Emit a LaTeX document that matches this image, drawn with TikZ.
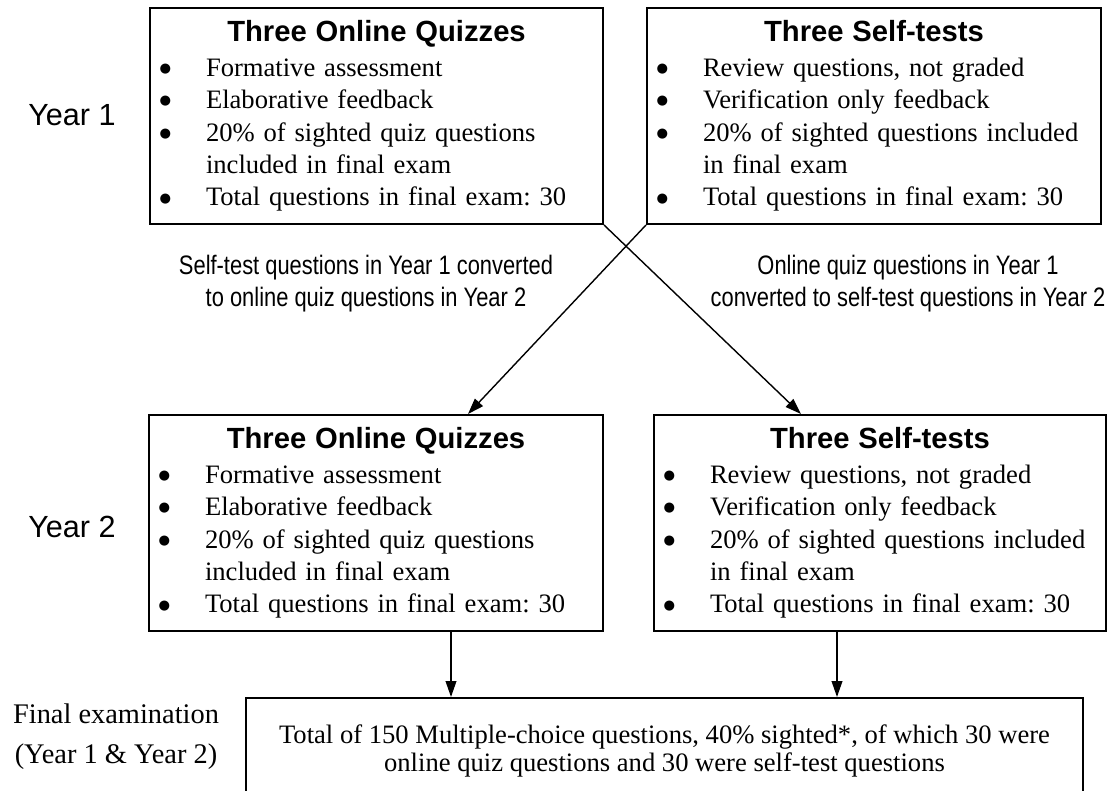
\documentclass[tikz,border=0pt]{standalone}
\usepackage{fontspec}
\setmainfont{Liberation Serif}
\newfontfamily\headfont{Liberation Sans}
\newfontfamily\narrowfont[FakeStretch=0.82]{Liberation Sans}
\newfontfamily\dotfont{DejaVu Sans}
\usetikzlibrary{arrows.meta}
\setlength{\parindent}{0pt}
\frenchspacing
\newcommand{\bhead}[1]{{\centering\headfont\bfseries\fontsize{14.6pt}{17pt}\selectfont #1\par}\vspace{1.2pt}}
\newcommand{\bul}[1]{\hspace*{4.8pt}\makebox[23.2pt][l]{\raisebox{1.9pt}{\dotfont\fontsize{6.6pt}{8pt}\selectfont ●}}#1\par}
\newcommand{\cont}[1]{\hspace*{28pt}#1\par}
\begin{document}
\begin{tikzpicture}
[x=0.5pt,y=-0.5pt,
 qbox/.style={draw, line width=1pt, inner sep=0pt, text width=#1, minimum height=108pt, align=left, font=\fontsize{13.3pt}{16.2pt}\selectfont},
 yearlab/.style={font=\headfont\fontsize{15.3pt}{18pt}\selectfont},
 convlab/.style={align=center, font=\narrowfont\fontsize{13.35pt}{16pt}\selectfont},
 conn/.style={line width=0.7pt, -{Triangle[length=8pt,width=5.4pt]}}]
\useasboundingbox (0,0) rectangle (1110,791);
% Year 1
\node[yearlab] (y1) at (72,115) {Year 1};
\node[qbox=226.5pt] (q1) at (376.5,116) {\bhead{Three Online Quizzes}\bul{Formative assessment}\bul{Elaborative feedback}\bul{20\% of sighted quiz questions}\cont{included in final exam}\bul{Total questions in final exam: 30}};
\node[qbox=227pt] (s1) at (874,116) {\bhead{Three Self-tests}\bul{Review questions, not graded}\bul{Verification only feedback}\bul{20\% of sighted questions included}\cont{in final exam}\bul{Total questions in final exam: 30}};
\node[convlab] (c1) at (366,284) {Self-test questions in Year 1 converted\\to online quiz questions in Year 2};
\node[convlab] (c2) at (908,284) {Online quiz questions in Year 1\\converted to self-test questions in Year 2};
% Year 2
\node[yearlab] (y2) at (72,527) {Year 2};
\node[qbox=227pt] (q2) at (376,523) {\bhead{Three Online Quizzes}\bul{Formative assessment}\bul{Elaborative feedback}\bul{20\% of sighted quiz questions}\cont{included in final exam}\bul{Total questions in final exam: 30}};
\node[qbox=226pt] (s2) at (880,523) {\bhead{Three Self-tests}\bul{Review questions, not graded}\bul{Verification only feedback}\bul{20\% of sighted questions included}\cont{in final exam}\bul{Total questions in final exam: 30}};
% final exam
\node[align=center, font=\fontsize{14.2pt}{20pt}\selectfont] (fl) at (116,737) {Final examination\\(Year 1 \& Year 2)};
\node[draw, line width=1pt, minimum width=418.5pt, minimum height=53pt, align=center, font=\fontsize{13.3pt}{14pt}\selectfont] (fin) at (664.5,751) {Total of 150 Multiple-choice questions, 40\% sighted*, of which 30 were\\online quiz questions and 30 were self-test questions};
\draw[conn] (q1.south east) -- ([xshift=-39.5pt]s2.north);
\draw[conn] (s1.south west) -- ([xshift=46pt]q2.north);
\draw[conn] ([xshift=37.5pt]q2.south) -- ([xshift=37.5pt]q2.south |- fin.north);
\draw[conn] ([xshift=-21.5pt]s2.south) -- ([xshift=-21.5pt]s2.south |- fin.north);
\end{tikzpicture}
\end{document}
